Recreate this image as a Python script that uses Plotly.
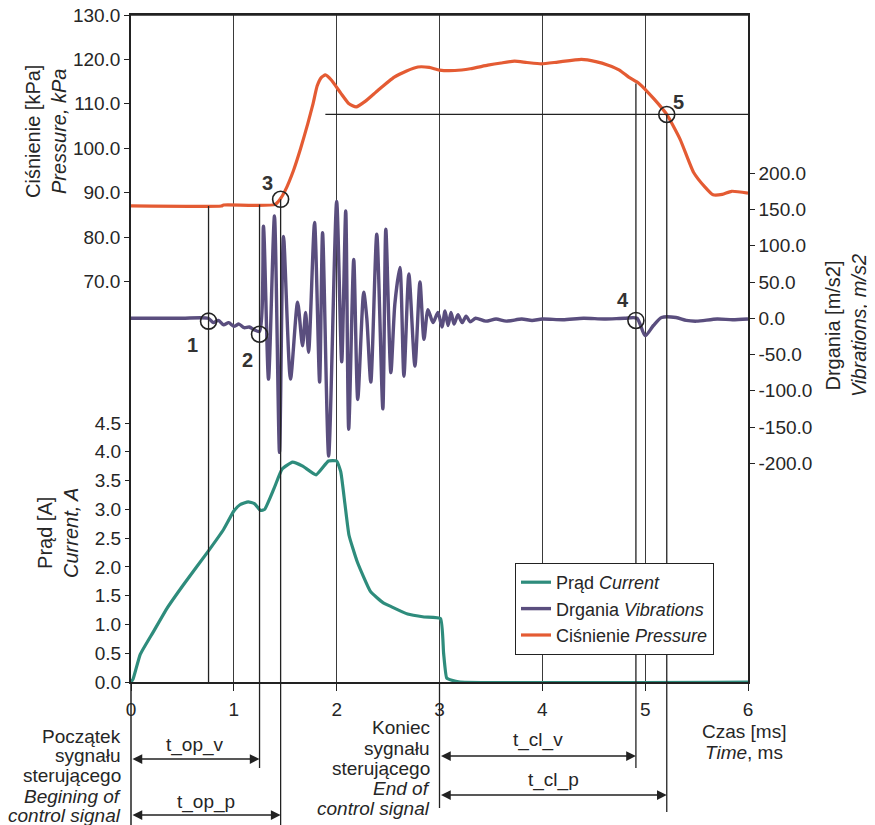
import plotly.graph_objects as go

# ---------------- data ----------------
# Current (A)
t_current = [0, 0.02, 0.09, 0.22, 0.35, 0.51, 0.75, 0.90, 1.00, 1.06, 1.14, 1.20, 1.26, 1.30,
             1.39, 1.47, 1.57, 1.67, 1.80, 1.92, 2.00, 2.04, 2.08, 2.12, 2.20, 2.33, 2.45,
             2.53, 2.69, 2.85, 3.01, 3.04, 3.07, 3.12, 3.20, 6.00]
current_A = [0.0, 0.05, 0.48, 0.88, 1.28, 1.69, 2.27, 2.65, 2.97, 3.08, 3.13, 3.10, 2.98, 3.00,
             3.36, 3.70, 3.82, 3.75, 3.60, 3.84, 3.84, 3.65, 3.10, 2.55, 2.09, 1.57, 1.38,
             1.31, 1.18, 1.13, 1.10, 0.50, 0.07, 0.03, 0.0, 0.0]

# Vibrations (m/s2)
t_vib = [0, 0.25, 0.50, 0.75, 0.80, 0.85, 0.90, 0.95, 1.00, 1.05, 1.10, 1.15, 1.20, 1.25, 1.288,
         1.337, 1.395, 1.444, 1.483, 1.551, 1.620, 1.668, 1.698, 1.727, 1.785, 1.834, 1.863,
         1.922, 2.000, 2.049, 2.088, 2.117, 2.166, 2.205, 2.263, 2.293, 2.332, 2.390, 2.449,
         2.478, 2.527, 2.566, 2.615, 2.654, 2.702, 2.761, 2.810, 2.849, 2.888, 2.937, 2.985,
         3.024, 3.054, 3.083, 3.112, 3.141, 3.180, 3.220, 3.259, 3.298, 3.35, 3.45, 3.55, 3.65,
         3.80, 3.90, 4.00, 4.20, 4.40, 4.60, 4.80, 4.92, 5.00, 5.08, 5.16, 5.30, 5.40, 5.50,
         5.70, 5.85, 6.00]
vib = [0, 0, 0, 0, -6, -3, -9, -6, -11, -8, -13, -12, -16, -18, 127,
       -84, 141, -185, 113, -84, 22, -38, 8, -47, 132, -88, 118,
       -190, 161, -60, 148, -153, 81, -112, 36, 0, -88, 116, -125,
       123, -75, 20, 70, -80, 61, -66, 50, -29, 12, -6, 8,
       -12, 10, -10, 8, -8, 5, -6, 3, -5, 0, -4, -1, -4,
       -1, -3, -1, -2, 0, -1, 0, 0, -24, -10, 1, 1, -3, -4,
       -1, -2, -1]

# Pressure (kPa)
t_press = [0, 0.88, 0.90, 1.40, 1.45, 1.50, 1.58, 1.65, 1.72, 1.77, 1.81, 1.85, 1.89, 1.95,
           2.04, 2.12, 2.19, 2.28, 2.40, 2.56, 2.68, 2.79, 2.90, 3.00, 3.15, 3.30, 3.47, 3.60,
           3.73, 3.85, 3.99, 4.15, 4.38, 4.52, 4.64, 4.75, 4.84, 4.94, 5.09, 5.21, 5.34, 5.47,
           5.58, 5.66, 5.75, 5.84, 6.00]
pressure = [87.0, 87.0, 87.2, 87.3, 88.5, 90.5, 95.0, 100.0, 105.6, 110.0, 114.0, 115.9, 116.5,
            115.3, 112.4, 110.0, 109.3, 110.6, 113.0, 116.0, 117.4, 118.3, 118.2, 117.6, 117.5,
            117.9, 118.7, 119.2, 119.6, 119.3, 119.0, 119.4, 120.0, 119.5, 118.7, 117.6, 116.0,
            114.6, 111.0, 107.6, 102.0, 94.6, 91.3, 89.5, 89.6, 90.3, 89.9]

# characteristic points
pt_labels = ["1", "2", "3", "4", "5"]
pt_time = [0.754, 1.25, 1.455, 4.91, 5.21]
pt_vib = [-4, -22, None, -3, None]
pt_press = [None, None, 88.5, None, 107.6]

# tick labels
x_ticks = [0, 1, 2, 3, 4, 5, 6]
x_ticktext = ["0", "1", "2", "3", "4", "5", "6"]
p_ticks = [70, 80, 90, 100, 110, 120, 130]
p_ticktext = ["70.0", "80.0", "90.0", "100.0", "110.0", "120.0", "130.0"]
i_ticks = [0, 0.5, 1.0, 1.5, 2.0, 2.5, 3.0, 3.5, 4.0, 4.5]
i_ticktext = ["0.0", "0.5", "1.0", "1.5", "2.0", "2.5", "3.0", "3.5", "4.0", "4.5"]
v_ticks = [-200, -150, -100, -50, 0, 50, 100, 150, 200]
v_ticktext = ["-200.0", "-150.0", "-100.0", "-50.0", "0.0", "50.0", "100.0", "150.0", "200.0"]

# ---------------- styling ----------------
FONT = "Liberation Sans, Arial, sans-serif"
TXT = "#262626"
LINE = "#222222"
C_CUR = "#2E8C7C"
C_VIB = "#5A4E7E"
C_PRE = "#E45B33"
FS = 19

W, H = 875, 825
OFF = 8  # page body margin
# plot area in screen pixels: x 131..748, y 15..682
ML, MR, MT, MB = 131 - OFF, W - (748 - OFF), 15 - OFF, H - (682 - OFF)


def px(x):
    return (x - 131) / (748 - 131)


def py(y):
    return (682 - y) / (682 - 15)


fig = go.Figure()

fig.add_trace(go.Scatter(x=t_current, y=current_A, yaxis="y2", mode="lines",
                         name="Prąd <i>Current</i>",
                         line=dict(color=C_CUR, width=3.2, shape="spline", smoothing=0.4)))
fig.add_trace(go.Scatter(x=t_vib, y=vib, yaxis="y3", mode="lines",
                         name="Drgania <i>Vibrations</i>",
                         line=dict(color=C_VIB, width=3.4, shape="spline", smoothing=0.7)))
fig.add_trace(go.Scatter(x=t_press, y=pressure, yaxis="y", mode="lines",
                         name="Ciśnienie <i>Pressure</i>",
                         line=dict(color=C_PRE, width=3.2, shape="spline", smoothing=0.5)))

vx = [t for t, v in zip(pt_time, pt_vib) if v is not None]
vy = [v for v in pt_vib if v is not None]
pxs = [t for t, p in zip(pt_time, pt_press) if p is not None]
pys = [p for p in pt_press if p is not None]
circ = dict(symbol="circle-open", size=16, color=LINE, line=dict(width=1.6, color=LINE))
fig.add_trace(go.Scatter(x=vx, y=vy, yaxis="y3", mode="markers", marker=circ,
                         showlegend=False, hoverinfo="skip"))
fig.add_trace(go.Scatter(x=pxs, y=pys, yaxis="y", mode="markers", marker=circ,
                         showlegend=False, hoverinfo="skip"))

P_MIN = -20.2
shapes = []
lw = 1.3
shapes.append(dict(type="line", xref="paper", yref="paper", x0=0, x1=1, y0=1, y1=1,
                   line=dict(color=LINE, width=1.5)))
inside = [(pt_time[0], 87.0), (pt_time[1], 87.3), (pt_time[2], 88.5), (pt_time[3], 114.6),
          (pt_time[4], pt_press[4])]
for t, p in inside:
    shapes.append(dict(type="line", xref="x", yref="y", x0=t, x1=t, y0=p, y1=P_MIN,
                       line=dict(color=LINE, width=lw)))
shapes.append(dict(type="line", xref="x", yref="y", x0=1.89, x1=6, y0=pt_press[4], y1=pt_press[4],
                   line=dict(color=LINE, width=lw)))
below = [(pt_time[1], 768), (pt_time[2], 825), (3.0, 808), (pt_time[3], 768), (pt_time[4], 812)]
for t, ypx in below:
    shapes.append(dict(type="line", xref="x", yref="paper", x0=t, x1=t, y0=0, y1=py(ypx),
                       line=dict(color=LINE, width=lw)))
shapes.append(dict(type="line", xref="paper", yref="paper", x0=0, x1=0, y0=0, y1=py(825),
                   line=dict(color=LINE, width=1.5)))

annotations = []


def note(x, y, text, size=FS, angle=0, xanchor="center"):
    annotations.append(dict(x=px(x), y=py(y), xref="paper", yref="paper", text=text,
                            textangle=angle, xanchor=xanchor, yanchor="middle",
                            showarrow=False, font=dict(size=size, color=TXT)))


lab_pos = [(0.596, -37, "y3"), (1.13, -57, "y3"), (1.325, 92.2, "y"), (4.78, 25, "y3"), (5.32, 110.4, "y")]
for lab, (lx, ly, ax_) in zip(pt_labels, lab_pos):
    annotations.append(dict(x=lx, y=ly, xref="x", yref=ax_, text="<b>%s</b>" % lab,
                            xanchor="center", yanchor="middle",
                            showarrow=False, font=dict(size=20, color="#333333")))

note(46, 132, "Ciśnienie [kPa]<br><i>Pressure, kPa</i>", size=20, angle=-90)
note(58, 533, "Prąd [A]<br><i>Current, A</i>", size=20, angle=-90)
note(846, 326, "Drgania [m/s2]<br><i>Vibrations, m/s2</i>", size=20, angle=-90)
note(744, 731, "Czas [ms]", size=19)
note(744, 752, "<i>Time</i>, ms", size=19)

left_block = [("Początek", 736), ("sygnału", 755), ("sterującego", 775),
              ("<i>Begining of</i>", 796), ("<i>control signal</i>", 815)]
for s, y in left_block:
    note(123, y, s, xanchor="right")
right_block = [("Koniec", 727), ("sygnału", 748), ("sterującego", 768),
               ("<i>End of</i>", 788), ("<i>control signal</i>", 808)]
for s, y in right_block:
    note(432, y, s, xanchor="right")

intervals = [("t_op_v", 0.0, pt_time[1], 759, 745),
             ("t_op_p", 0.0, pt_time[2], 815, 802),
             ("t_cl_v", 3.0, pt_time[3], 756, 740),
             ("t_cl_p", 3.0, pt_time[4], 795, 780)]
for name, t0, t1, ya, yt in intervals:
    annotations.append(dict(x=t1, y=py(ya), xref="x", yref="paper", ax=t0, ay=0, axref="x",
                            ayref="pixel", text="", showarrow=True, arrowhead=2,
                            arrowside="end+start", arrowsize=1.3, arrowwidth=1.5,
                            arrowcolor=LINE, standoff=0, startstandoff=0))
    annotations.append(dict(x=(t0 + t1) / 2, y=py(yt), xref="x", yref="paper", text=name,
                            xanchor="center", yanchor="middle",
                            showarrow=False, font=dict(size=FS, color=TXT)))

tickfont = dict(size=19, color=TXT, family=FONT)
fig.update_layout(
    template="none",
    width=W, height=H,
    margin=dict(l=ML, r=MR, t=MT, b=MB, pad=0, autoexpand=False),
    paper_bgcolor="white", plot_bgcolor="white",
    font=dict(family=FONT, color=TXT, size=19),
    showlegend=True,
    legend=dict(x=px(515), y=py(563), xanchor="left", yanchor="top",
                bgcolor="white", bordercolor=LINE, borderwidth=1,
                font=dict(size=18, color=TXT), tracegroupgap=0,
                entrywidth=180, entrywidthmode="pixels"),
    xaxis=dict(range=[0, 6], tickvals=x_ticks, ticktext=x_ticktext, ticks="outside", ticklen=7,
               tickcolor=LINE, showline=True, linecolor=LINE, linewidth=1.5, mirror=True,
               showgrid=True, gridcolor="#3a3a3a", gridwidth=1, zeroline=False,
               tickfont=tickfont, ticklabelstandoff=2, automargin=False,
               ticklabeloverflow="allow"),
    yaxis=dict(range=[P_MIN, 130], tickvals=p_ticks, ticktext=p_ticktext, ticks="outside",
               ticklen=5, tickcolor=LINE, showline=True, linecolor=LINE, linewidth=1.5,
               showgrid=False, zeroline=False, tickfont=tickfont, automargin=False,
               ticklabeloverflow="allow"),
    yaxis2=dict(range=[0, 11.59], overlaying="y", side="left", anchor="x", tickvals=i_ticks,
                ticktext=i_ticktext, ticks="outside", ticklen=5, tickcolor=LINE,
                showline=False, showgrid=False, zeroline=False, tickfont=tickfont,
                automargin=False, ticklabeloverflow="allow"),
    yaxis3=dict(range=[-501.7, 418.3], overlaying="y", side="right", anchor="x",
                tickvals=v_ticks, ticktext=v_ticktext, ticks="outside", ticklen=5,
                tickcolor=LINE, showline=True, linecolor=LINE, linewidth=1.5,
                showgrid=False, zeroline=False, tickfont=tickfont, automargin=False,
                ticklabeloverflow="allow"),
    shapes=shapes,
    annotations=annotations,
)

fig.write_html("out.html")
